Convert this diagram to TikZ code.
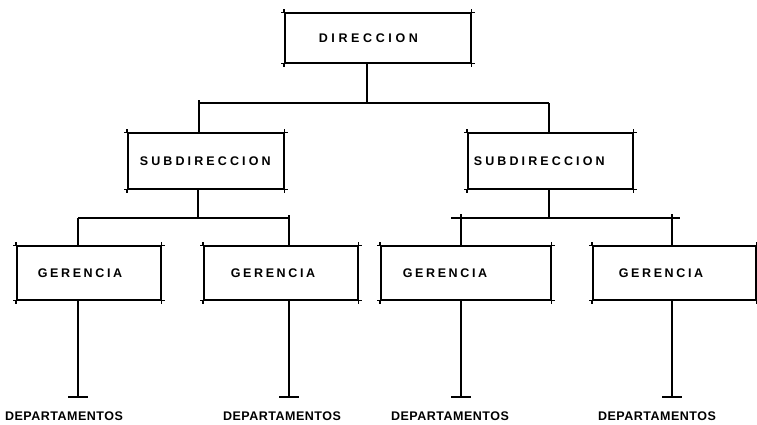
\documentclass[tikz,border=0pt]{standalone}
\usepackage{fontspec}
\setmainfont{Liberation Sans}
\newfontfamily\fdir{Liberation Sans}[UprightFont={* Bold}, LetterSpace=29]
\newfontfamily\fsub{Liberation Sans}[UprightFont={* Bold}, LetterSpace=25]
\newfontfamily\fger{Liberation Sans}[UprightFont={* Bold}, LetterSpace=21]
\newfontfamily\fdep{Liberation Sans}[UprightFont={* Bold}, LetterSpace=4]
\usetikzlibrary{calc}
\begin{document}
\begin{tikzpicture}[x=1pt,y=-1pt,
  line width=1.5pt,
  box/.style={draw, line width=1.6pt, inner xsep=0pt, inner ysep=0pt, align=left, anchor=west,
    font=\fontsize{12.5}{14}\selectfont},
  dept/.style={inner sep=0pt, font=\fontsize{12.5}{14}\selectfont},
  conn/.style={line width=1.5pt},
  tick/.style={line width=1.1pt}]
\useasboundingbox (0,0) rectangle (757,424);

% boxes
\node[box, text width=186pt, minimum height=50pt] (dir) at (284,38) {\fdir\hspace*{34pt}DIRECCION};
\node[box, text width=156pt, minimum height=56pt] (sub1) at (127,161) {\fsub\hspace*{12pt}SUBDIRECCION};
\node[box, text width=165pt, minimum height=56pt] (sub2) at (467,161) {\fsub\hspace*{6pt}SUBDIRECCION};
\node[box, text width=144pt, minimum height=54pt] (g1) at (16,273) {\fger\hspace*{21pt}GERENCIA};
\node[box, text width=154pt, minimum height=54pt] (g2) at (203,273) {\fger\hspace*{27pt}GERENCIA};
\node[box, text width=170pt, minimum height=54pt] (g3) at (380,273) {\fger\hspace*{22pt}GERENCIA};
\node[box, text width=163pt, minimum height=54pt] (g4) at (592,273) {\fger\hspace*{26pt}GERENCIA};

% corner ticks
\foreach \n in {dir,sub1,sub2,g1,g2,g3,g4}{
  \draw[tick] ($(\n.north west)+(-3,0)$) -- (\n.north west) ($(\n.north west)+(0,-3)$) -- (\n.north west);
  \draw[tick] ($(\n.north east)+(3,0)$) -- (\n.north east) ($(\n.north east)+(0,-3)$) -- (\n.north east);
  \draw[tick] ($(\n.south west)+(-3,0)$) -- (\n.south west) ($(\n.south west)+(0,3)$) -- (\n.south west);
  \draw[tick] ($(\n.south east)+(3,0)$) -- (\n.south east) ($(\n.south east)+(0,3)$) -- (\n.south east);
}

% department labels
\node[dept] (d1) at (64,416) {\fdep DEPARTAMENTOS};
\node[dept] (d2) at (282,416) {\fdep DEPARTAMENTOS};
\node[dept] (d3) at (450,416) {\fdep DEPARTAMENTOS};
\node[dept] (d4) at (657,416) {\fdep DEPARTAMENTOS};

% bus coordinates
\coordinate (bt) at (367,103);
\coordinate (btl) at (199,103);
\coordinate (btr) at (549,103);
\coordinate (bl) at (198,218);
\coordinate (bl1) at (78,218);
\coordinate (bl2) at (289,218);
\coordinate (br) at (549,218);
\coordinate (br1) at (461,218);
\coordinate (br2) at (672,218);
\coordinate (brl) at (451,218);
\coordinate (brr) at (680,218);

% top level
\draw[conn] (dir.south -| bt) -- (bt);
\draw[conn] (btl) -- (btr);
\draw[conn] (btl) -- (sub1.north -| btl);
\draw[conn] (btr) -- (sub2.north -| btr);
\draw[tick] ($(btl)+(0,-3)$) -- (btl);
% left subdirection
\draw[conn] (sub1.south -| bl) -- (bl);
\draw[conn] (bl1) -- (bl2);
\draw[conn] (bl1) -- (g1.north -| bl1);
\draw[conn] (bl2) -- (g2.north -| bl2);
\draw[tick] ($(bl2)+(0,-3)$) -- (bl2);
% right subdirection
\draw[conn] (sub2.south -| br) -- (br);
\draw[conn] (brl) -- (brr);
\draw[conn] (br1) -- (g3.north -| br1);
\draw[conn] (br2) -- (g4.north -| br2);
\draw[tick] ($(br1)+(0,-4)$) -- (br1);
\draw[tick] ($(br2)+(0,-4)$) -- (br2);

% departments
\foreach \g/\x in {g1/78,g2/289,g3/461,g4/672}{
  \coordinate (t\g) at (\x,397);
  \draw[conn] (\g.south -| t\g) -- (t\g);
  \draw[conn] ($(t\g)+(-10,0)$) -- ($(t\g)+(10,0)$);
}
\end{tikzpicture}
\end{document}
